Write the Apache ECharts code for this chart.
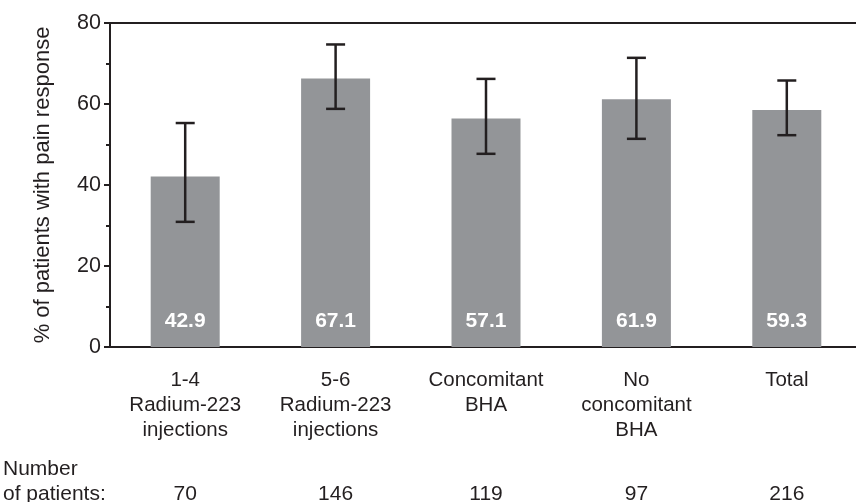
<!DOCTYPE html>
<html><head><meta charset="utf-8">
<script src="https://cdn.jsdelivr.net/npm/echarts@6/dist/echarts.min.js"></script>
<style>html,body{margin:0;padding:0;background:#fff}#c{width:856px;height:502px}</style>
</head><body><div id="c"></div>
<script>
const categories = ['1-4\nRadium-223\ninjections', '5-6\nRadium-223\ninjections', 'Concomitant\nBHA', 'No\nconcomitant\nBHA', 'Total'];
const values = [42.1, 66.3, 56.4, 61.2, 58.5];
const valueLabels = ['42.9', '67.1', '57.1', '61.9', '59.3'];
const errLow = [30.9, 58.8, 47.7, 51.4, 52.3];
const errHigh = [55.3, 74.7, 66.2, 71.4, 65.8];
const patients = ['70', '146', '119', '97', '216'];
const yTicks = [0, 20, 40, 60, 80];

const ink = '#231f20';
const font = 'Liberation Sans, Arial, Helvetica, sans-serif';
const chart = echarts.init(document.getElementById('c'));
chart.setOption({
  animation: false,
  backgroundColor: '#fff',
  grid: { left: 110, top: 23, bottom: 155, right: -6, outerBoundsMode: 'none', containLabel: false,
          show: true, borderColor: ink, borderWidth: 2, backgroundColor: 'transparent' },
  xAxis: [{
    type: 'category', data: categories, position: 'bottom',
    axisLine: { lineStyle: { color: ink, width: 2 } },
    axisTick: { alignWithLabel: true, length: 6, lineStyle: { color: ink, width: 2 } },
    axisLabel: { color: ink, fontSize: 20.5, fontFamily: font, lineHeight: 25, margin: 21, interval: 0 }
  }, {
    type: 'category', data: patients, position: 'bottom', offset: 125, gridIndex: 0,
    axisLine: { show: false }, axisTick: { show: false },
    axisLabel: { color: ink, fontSize: 21, fontFamily: font, lineHeight: 24, margin: 10, interval: 0 }
  }],
  yAxis: {
    type: 'value', min: yTicks[0], max: yTicks[yTicks.length - 1], interval: 20,
    name: '% of patients with pain response', nameLocation: 'middle', nameGap: 56,
    nameTextStyle: { color: ink, fontSize: 22, fontFamily: font },
    axisLine: { show: true, lineStyle: { color: ink, width: 2 } },
    axisTick: { show: true, length: 6, lineStyle: { color: ink, width: 2 } },
    minorTick: { show: true, splitNumber: 2, length: 4, lineStyle: { color: ink, width: 2 } },
    splitLine: { show: false },
    axisLabel: { color: ink, fontSize: 21.5, fontFamily: font, margin: 9 }
  },
  series: [{
    type: 'bar', data: values, barWidth: 69, itemStyle: { color: '#939598' },
    label: {
      show: true, position: 'insideBottom', distance: 15, color: '#fff', fontWeight: 'bold',
      fontSize: 21, fontFamily: font,
      formatter: p => valueLabels[p.dataIndex]
    }
  }, {
    type: 'custom',
    data: categories.map((c, i) => [i, errLow[i], errHigh[i]]),
    renderItem: function (params, api) {
      const lo = api.coord([api.value(0), api.value(1)]);
      const hi = api.coord([api.value(0), api.value(2)]);
      const hw = 9.5;
      const st = { stroke: ink, lineWidth: 2.5 };
      return { type: 'group', children: [
        { type: 'line', shape: { x1: lo[0], y1: lo[1], x2: hi[0], y2: hi[1] }, style: st },
        { type: 'line', shape: { x1: lo[0] - hw, y1: lo[1], x2: lo[0] + hw, y2: lo[1] }, style: st },
        { type: 'line', shape: { x1: hi[0] - hw, y1: hi[1], x2: hi[0] + hw, y2: hi[1] }, style: st }
      ] };
    },
    z: 5
  }],
  graphic: [{
    type: 'text', left: 3, top: 457,
    style: { text: 'Number\nof patients:', fill: ink, fontSize: 21, fontFamily: font, lineHeight: 25 }
  }]
});
</script></body></html>
